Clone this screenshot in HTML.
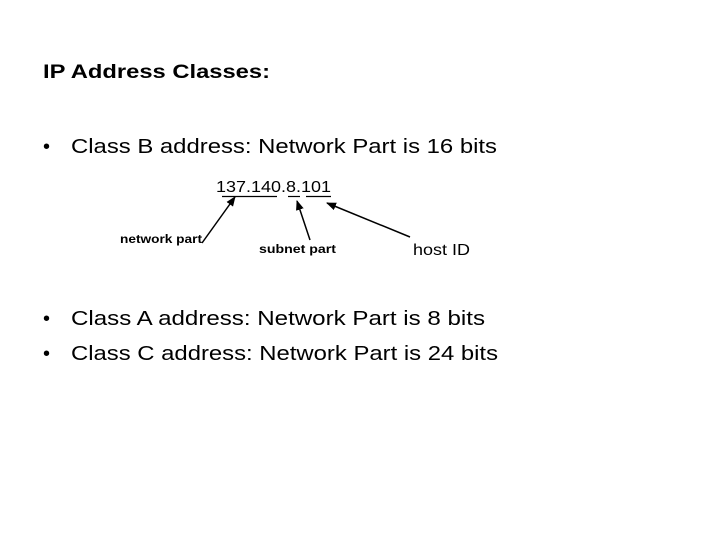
<!DOCTYPE html>
<html><head><style>html,body{margin:0;padding:0;background:#fff}svg{display:block}</style></head>
<body>
<svg width="720" height="540" viewBox="0 0 720 540" xmlns="http://www.w3.org/2000/svg" font-family="Liberation Sans, Arial, sans-serif" fill="#000">
<defs><marker id="a" markerWidth="10" markerHeight="8" refX="9" refY="4" orient="auto" markerUnits="userSpaceOnUse"><path d="M0,0 L10,4 L0,8 z" fill="#000"/></marker></defs>
<text x="43" y="78" font-size="19" font-weight="bold" textLength="227" lengthAdjust="spacingAndGlyphs">IP Address Classes:</text>
<text x="43" y="153" font-size="20">•</text>
<text x="71" y="153" font-size="20" textLength="426" lengthAdjust="spacingAndGlyphs">Class B address: Network Part is 16 bits</text>
<text x="216" y="192" font-size="16" textLength="115" lengthAdjust="spacingAndGlyphs">137.140.8.101</text>
<g stroke="#000" stroke-width="1.2">
<line x1="222" y1="196.5" x2="277" y2="196.5"/>
<line x1="288" y1="196.5" x2="300" y2="196.5"/>
<line x1="306" y1="196.5" x2="331" y2="196.5"/>
<line x1="202" y1="243" x2="235" y2="197" stroke-width="1.5" marker-end="url(#a)"/>
<line x1="310" y1="240" x2="297" y2="201" stroke-width="1.5" marker-end="url(#a)"/>
<line x1="410" y1="237" x2="327" y2="203" stroke-width="1.5" marker-end="url(#a)"/>
</g>
<text x="120" y="243" font-size="12" font-weight="bold" textLength="82" lengthAdjust="spacingAndGlyphs">network part</text>
<text x="259" y="253" font-size="12" font-weight="bold" textLength="77" lengthAdjust="spacingAndGlyphs">subnet part</text>
<text x="413" y="255" font-size="16" textLength="57" lengthAdjust="spacingAndGlyphs">host ID</text>
<text x="43" y="325" font-size="20">•</text>
<text x="71" y="325" font-size="20" textLength="414" lengthAdjust="spacingAndGlyphs">Class A address: Network Part is 8 bits</text>
<text x="43" y="360" font-size="20">•</text>
<text x="71" y="360" font-size="20" textLength="427" lengthAdjust="spacingAndGlyphs">Class C address: Network Part is 24 bits</text>
</svg>
</body></html>
